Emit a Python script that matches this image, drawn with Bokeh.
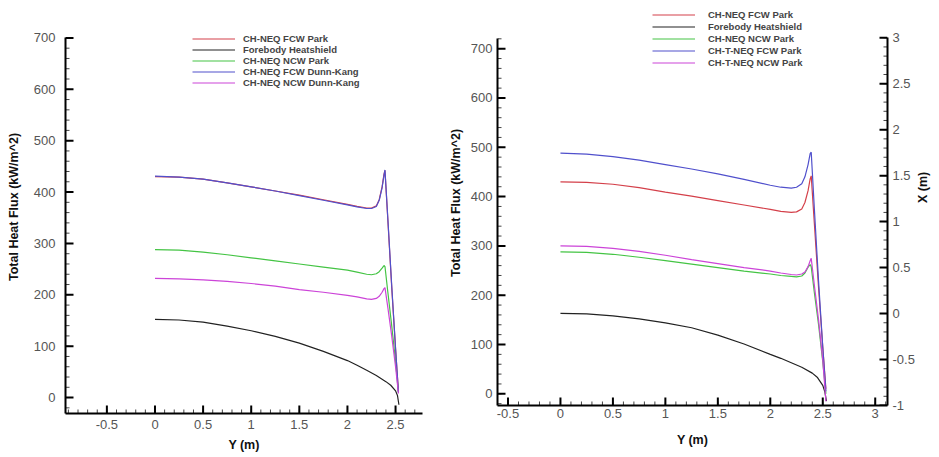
import math
from bokeh.plotting import figure
from bokeh.models import Range1d, LinearAxis, FixedTicker, Legend, LegendItem
from bokeh.layouts import row
from bokeh.embed import file_html
from bokeh.resources import INLINE

# ---------------- data ----------------
y_grid = [0, 0.25, 0.5, 0.75, 1.0, 1.25, 1.5, 1.75, 2.0, 2.1, 2.2, 2.25, 2.3, 2.33,
          2.36, 2.38, 2.39, 2.42, 2.46, 2.5, 2.53]

# left panel
left_fcw_park = [430, 429, 425, 418, 410, 402, 394, 385, 376, 372, 369, 369, 373, 385,
                 410, 435, 442, 345, 215, 95, 12]
left_fcw_dk = [431, 429, 425, 418, 410, 402, 393, 384, 375, 371, 368, 368, 372, 384,
               408, 433, 443, 348, 218, 96, 10]
left_ncw_park = [288, 287, 283, 278, 272, 266, 260, 254, 248, 244, 240, 239, 241, 245,
                 252, 257, 255, 205, 140, 70, 10]
left_ncw_dk = [232, 231, 229, 226, 222, 217, 210, 205, 199, 196, 192, 191, 193, 197,
               205, 212, 214, 175, 120, 60, 8]
fb_y_grid = [0, 0.25, 0.5, 0.75, 1.0, 1.25, 1.5, 1.75, 2.0, 2.1, 2.2, 2.3, 2.4, 2.45,
             2.5, 2.52, 2.535]
left_forebody = [152, 151, 147, 139, 130, 119, 106, 90, 72, 63, 53, 43, 31, 24, 13, 4, -14]

# right panel
right_neq_fcw_park = [430, 429, 425, 418, 409, 401, 392, 383, 374, 370, 368, 369, 375, 388,
                      412, 436, 442, 345, 215, 95, 10]
right_neq_ncw_park = [288, 287, 283, 277, 270, 263, 256, 249, 243, 240, 238, 237, 239, 245,
                      257, 262, 258, 205, 140, 65, 0]
right_tneq_fcw_park = [488, 486, 481, 474, 465, 456, 446, 435, 423, 419, 417, 419, 426, 440,
                       465, 487, 490, 375, 228, 95, 5]
right_tneq_ncw_park = [300, 299, 295, 289, 281, 272, 264, 256, 249, 245, 242, 241, 243, 247,
                       258, 270, 275, 220, 150, 68, -15]
right_forebody = [163, 162, 158, 152, 144, 134, 119, 101, 80, 72, 63, 54, 42, 33, 17, 4, -15]

x_ticks_left = [-0.5, 0, 0.5, 1, 1.5, 2, 2.5]
x_labels_left = ["-0.5", "0", "0.5", "1", "1.5", "2", "2.5"]
x_ticks_right = [-0.5, 0, 0.5, 1, 1.5, 2, 2.5, 3]
x_labels_right = ["-0.5", "0", "0.5", "1", "1.5", "2", "2.5", "3"]
q_ticks = [0, 100, 200, 300, 400, 500, 600, 700]
q_labels = ["0", "100", "200", "300", "400", "500", "600", "700"]
xr_ticks = [-1, -0.5, 0, 0.5, 1, 1.5, 2, 2.5, 3]
xr_labels = ["-1", "-0.5", "0", "0.5", "1", "1.5", "2", "2.5", "3"]

left_names = ["CH-NEQ FCW Park", "Forebody Heatshield", "CH-NEQ NCW Park",
              "CH-NEQ FCW Dunn-Kang", "CH-NEQ NCW Dunn-Kang"]
right_names = ["CH-NEQ FCW Park", "Forebody Heatshield", "CH-NEQ NCW Park",
               "CH-T-NEQ FCW Park", "CH-T-NEQ NCW Park"]

# axis extents (data units)
L_X = (-0.93, 2.78)
L_Q = (-31, 700)          # visible axis extent
L_Q_TOP = 772.8           # frame top (room for legend)
R_X = (-0.60, 3.117)
R_Q = (-23.7, 721)
R_Q_TOP = 797.7
R_XP = (-1, 3)
R_XP_TOP = 3.405

RED = "#d4404a"
BLACK = "#222222"
GREEN = "#44c444"
BLUE = "#5050cc"
MAGENTA = "#cc44d8"
FONT = "Liberation Sans"


def style_axis(ax, ticks, labels, standoff, bounds):
    ax.ticker = FixedTicker(ticks=ticks, minor_ticks=[])
    ov = {}
    for t, l in zip(ticks, labels):
        ov[t] = l
    ax.major_label_overrides = ov
    ax.bounds = bounds
    ax.axis_line_width = 2
    ax.axis_line_color = "black"
    ax.major_tick_in = 0
    ax.major_tick_out = 0
    ax.minor_tick_in = 0
    ax.minor_tick_out = 0
    ax.major_label_text_font = FONT
    ax.major_label_text_font_size = "13px"
    ax.major_label_text_color = "#555555"
    ax.major_label_standoff = standoff
    ax.axis_label_text_font = FONT
    ax.axis_label_text_font_style = "bold"
    ax.axis_label_text_font_size = "12.5px"
    ax.axis_label_text_color = "#111111"


def tick_marks(p, xs, ys, angle, major, range_name="default"):
    p.ray(x=xs, y=ys, length=(8 if major else 4), length_units="screen", angle=angle,
          line_width=(2 if major else 1), line_color=("black" if major else "#444444"),
          y_range_name=range_name)


def inside(edge, other, frac=1e-5):
    return edge + (other - edge) * frac


def make_legend(items, loc, standoff, spacing):
    return Legend(items=items, location=loc, orientation="vertical",
                  glyph_width=43, glyph_height=11, label_height=11, spacing=spacing,
                  padding=0, margin=0, border_line_color=None, background_fill_alpha=0,
                  label_text_font=FONT, label_text_font_size="9.5px",
                  label_text_font_style="bold", label_standoff=standoff)


UP, RIGHT, LEFT = math.pi / 2, 0.0, math.pi

# ---------------- left figure ----------------
p1 = figure(width=444, height=457, x_range=Range1d(*L_X), y_range=Range1d(L_Q[0], L_Q_TOP),
            output_backend="svg", toolbar_location=None,
            min_border_left=65, min_border_right=22, min_border_top=0, min_border_bottom=43)
p1.grid.visible = False
p1.outline_line_color = None

r1 = p1.line(y_grid, left_fcw_park, line_color=RED, line_width=1.2)
r2 = p1.line(fb_y_grid, left_forebody, line_color=BLACK, line_width=1.2)
r3 = p1.line(y_grid, left_ncw_park, line_color=GREEN, line_width=1.2)
r4 = p1.line(y_grid, left_fcw_dk, line_color=BLUE, line_width=1.2)
r5 = p1.line(y_grid, left_ncw_dk, line_color=MAGENTA, line_width=1.2)

style_axis(p1.xaxis[0], x_ticks_left, x_labels_left, 6, L_X)
style_axis(p1.yaxis[0], q_ticks, q_labels, 10, L_Q)
p1.xaxis[0].axis_label = "Y (m)"
p1.xaxis[0].axis_label_standoff = 6
p1.yaxis[0].axis_label = "Total Heat Flux (kW/m^2)"
p1.yaxis[0].axis_label_standoff = 10

minor_x_left = [i / 10 for i in range(-9, 28)]
minor_q_left = [i * 20 for i in range(-1, 36)]
yb1 = inside(L_Q[0], L_Q_TOP)
xl1 = inside(L_X[0], L_X[1])
tick_marks(p1, minor_x_left, [yb1] * len(minor_x_left), UP, False)
tick_marks(p1, [xl1] * len(minor_q_left), minor_q_left, RIGHT, False)
tick_marks(p1, x_ticks_left, [yb1] * len(x_ticks_left), UP, True)
tick_marks(p1, [xl1] * len(q_ticks), q_ticks, RIGHT, True)

lg1 = make_legend([LegendItem(label=n, renderers=[r]) for n, r in
                   zip(left_names, [r1, r2, r3, r4, r5])], (127, 325), 8, 0)
p1.add_layout(lg1)

# ---------------- right figure ----------------
p2 = figure(width=495, height=449, x_range=Range1d(*R_X), y_range=Range1d(R_Q[0], R_Q_TOP),
            output_backend="svg", toolbar_location=None,
            min_border_left=53, min_border_right=47, min_border_top=0, min_border_bottom=43)
p2.grid.visible = False
p2.outline_line_color = None
p2.extra_y_ranges = {"xpos": Range1d(R_XP[0], R_XP_TOP)}

s1 = p2.line(y_grid, right_neq_fcw_park, line_color=RED, line_width=1.2)
s2 = p2.line(fb_y_grid, right_forebody, line_color=BLACK, line_width=1.2)
s3 = p2.line(y_grid, right_neq_ncw_park, line_color=GREEN, line_width=1.2)
s4 = p2.line(y_grid, right_tneq_fcw_park, line_color=BLUE, line_width=1.2)
s5 = p2.line(y_grid, right_tneq_ncw_park, line_color=MAGENTA, line_width=1.2)

style_axis(p2.xaxis[0], x_ticks_right, x_labels_right, 3, R_X)
style_axis(p2.yaxis[0], q_ticks, q_labels, 5, R_Q)
p2.xaxis[0].axis_label = "Y (m)"
p2.xaxis[0].axis_label_standoff = 12
p2.yaxis[0].axis_label = "Total Heat Flux (kW/m^2)"
p2.yaxis[0].axis_label_standoff = 5

ax_r = LinearAxis(y_range_name="xpos", axis_label="X (m)")
style_axis(ax_r, xr_ticks, xr_labels, 5, R_XP)
ax_r.axis_label_standoff = 5
if "axis_label_orientation" in ax_r.properties():
    ax_r.axis_label_orientation = math.pi / 2
p2.add_layout(ax_r, "right")

minor_x_right = [i / 10 for i in range(-5, 32)]
minor_q_right = [i * 20 for i in range(-1, 37)]
minor_xp = [i / 10 for i in range(-10, 31)]
yb2 = inside(R_Q[0], R_Q_TOP)
xl2 = inside(R_X[0], R_X[1])
xr2 = inside(R_X[1], R_X[0])
tick_marks(p2, minor_x_right, [yb2] * len(minor_x_right), UP, False)
tick_marks(p2, [xl2] * len(minor_q_right), minor_q_right, RIGHT, False)
tick_marks(p2, [xr2] * len(minor_xp), minor_xp, LEFT, False, "xpos")
tick_marks(p2, x_ticks_right, [yb2] * len(x_ticks_right), UP, True)
tick_marks(p2, [xl2] * len(q_ticks), q_ticks, RIGHT, True)
tick_marks(p2, [xr2] * len(xr_ticks), xr_ticks, LEFT, True, "xpos")

lg2 = make_legend([LegendItem(label=n, renderers=[r]) for n, r in
                   zip(right_names, [s1, s2, s3, s4, s5])], (155, 337), 13, 1)
p2.add_layout(lg2)

layout = row(p1, p2)
open("out.html", "w").write(file_html(layout, INLINE))
